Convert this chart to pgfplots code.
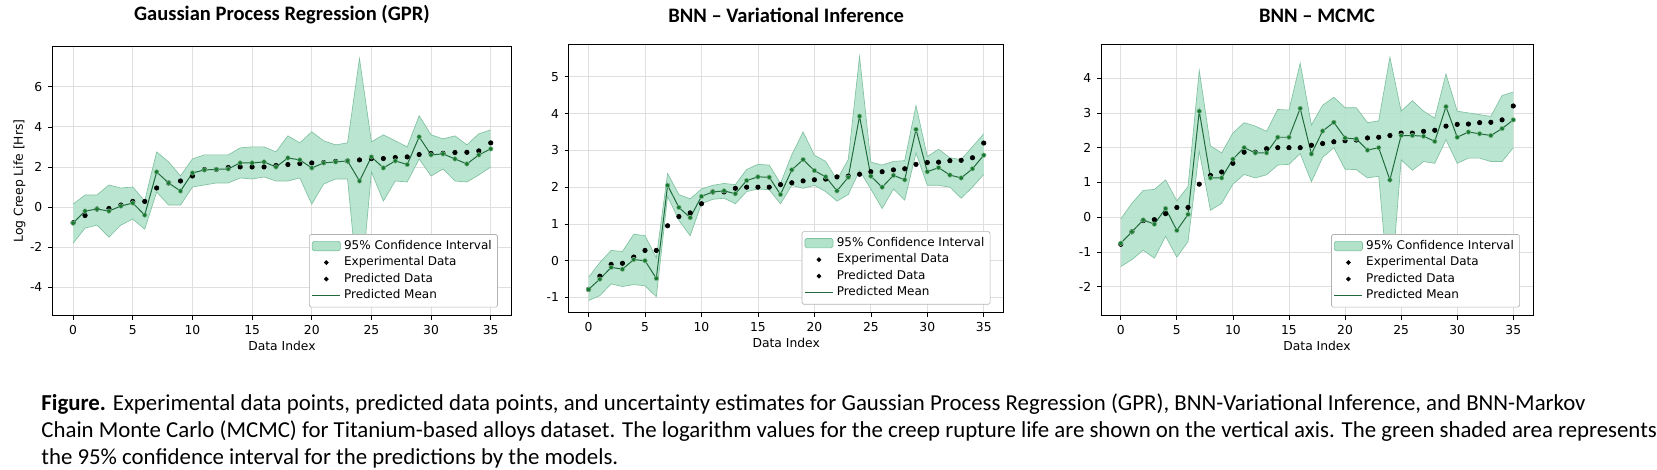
\documentclass[border=0pt]{standalone}
\usepackage{pgfplots}
\pgfplotsset{compat=1.18}
\usepackage{pgfplotstable}
\usepgfplotslibrary{fillbetween}
\usepackage{fontspec}
\setmainfont{DejaVu Sans}
\newfontfamily\capfont{Carlito}
\definecolor{cifill}{HTML}{B3E2CB}
\definecolor{ciedge}{HTML}{7FC2A0}
\definecolor{meanc}{HTML}{1F6B3C}
\definecolor{ptc}{HTML}{177A30}
\pgfplotstableread{
x e m lo hi
0 -0.78 -0.80 -1.80 0.15
1 -0.42 -0.20 -1.05 0.60
2 -0.10 -0.10 -0.90 0.60
3 -0.07 -0.20 -1.50 1.10
4 0.10 0.05 -0.90 0.95
5 0.28 0.20 -0.60 1.00
6 0.28 -0.40 -1.10 0.30
7 0.95 1.75 0.75 2.75
8 1.20 1.20 0.10 2.25
9 1.30 0.80 0.10 1.55
10 1.55 1.70 1.00 2.40
11 1.87 1.85 1.10 2.60
12 1.87 1.88 1.20 2.60
13 1.97 1.90 1.20 2.60
14 2.00 2.20 1.45 2.95
15 2.00 2.20 1.40 3.00
16 2.00 2.25 1.50 3.00
17 2.07 2.00 1.30 2.75
18 2.12 2.45 1.30 3.55
19 2.17 2.35 1.45 3.20
20 2.20 1.95 0.15 3.75
21 2.22 2.20 1.15 3.30
22 2.28 2.25 1.40 3.10
23 2.30 2.30 1.40 3.20
24 2.35 1.30 -4.80 7.40
25 2.42 2.50 1.75 3.25
26 2.42 1.95 0.30 3.60
27 2.47 2.30 1.30 3.30
28 2.50 2.12 1.25 3.00
29 2.62 3.50 2.40 4.55
30 2.67 2.60 1.55 3.60
31 2.68 2.65 1.90 3.40
32 2.72 2.40 1.30 3.55
33 2.73 2.15 1.25 3.10
34 2.80 2.60 1.60 3.65
35 3.20 2.90 2.00 3.85
}\gpr
\pgfplotstableread{
x e m lo hi
0 -0.78 -0.78 -1.08 -0.45
1 -0.42 -0.50 -0.95 -0.05
2 -0.10 -0.18 -0.63 0.28
3 -0.07 -0.23 -0.70 0.25
4 0.10 0.03 -0.65 0.72
5 0.28 0.00 -0.68 0.68
6 0.28 -0.48 -0.98 0.08
7 0.95 2.05 1.75 2.37
8 1.20 1.45 1.10 1.80
9 1.30 1.17 0.68 1.68
10 1.55 1.75 1.55 1.95
11 1.87 1.87 1.67 2.05
12 1.87 1.90 1.70 2.10
13 1.97 1.82 1.55 2.07
14 2.00 2.18 1.88 2.48
15 2.00 2.28 1.95 2.62
16 2.00 2.27 1.93 2.60
17 2.07 1.80 1.55 2.10
18 2.12 2.47 2.05 2.88
19 2.17 2.75 1.97 3.50
20 2.20 2.45 2.05 2.87
21 2.22 2.28 1.88 2.70
22 2.28 1.90 1.62 2.20
23 2.30 2.27 1.80 2.75
24 2.35 3.93 2.45 5.55
25 2.42 2.30 1.95 2.68
26 2.42 2.00 1.42 2.60
27 2.47 2.32 1.95 2.70
28 2.50 2.20 1.65 2.72
29 2.62 3.57 2.93 4.22
30 2.67 2.42 2.05 2.83
31 2.68 2.53 2.05 3.03
32 2.72 2.33 2.00 2.80
33 2.73 2.25 1.70 2.75
34 2.80 2.50 2.00 3.10
35 3.20 2.87 2.35 3.45
}\vi
\pgfplotstableread{
x e m lo hi
0 -0.78 -0.75 -1.42 -0.05
1 -0.42 -0.42 -1.22 0.40
2 -0.10 -0.08 -0.95 0.77
3 -0.07 -0.20 -1.18 0.80
4 0.10 0.25 -0.55 1.07
5 0.28 -0.38 -1.15 0.47
6 0.28 0.08 -0.70 0.88
7 0.95 3.05 1.90 4.22
8 1.20 1.13 0.20 2.05
9 1.30 1.13 0.40 1.85
10 1.55 1.67 0.95 2.42
11 1.87 2.00 1.23 2.72
12 1.87 1.85 1.13 2.62
13 1.97 1.85 1.22 2.47
14 2.00 2.30 1.50 3.10
15 2.00 2.30 1.52 3.08
16 2.00 3.13 1.83 4.43
17 2.07 1.82 1.02 2.65
18 2.12 2.48 1.72 3.22
19 2.17 2.73 2.00 3.45
20 2.20 2.28 1.38 3.15
21 2.22 2.25 1.37 3.15
22 2.28 1.93 1.13 2.72
23 2.30 2.00 1.18 2.77
24 2.35 1.07 -2.45 4.60
25 2.42 2.35 1.65 3.05
26 2.42 2.35 1.35 3.35
27 2.47 2.33 1.60 3.05
28 2.50 2.18 1.55 2.85
29 2.62 3.18 2.23 4.12
30 2.67 2.30 1.55 3.05
31 2.68 2.45 1.70 3.00
32 2.72 2.40 1.70 2.95
33 2.73 2.35 1.60 2.90
34 2.80 2.55 1.60 3.50
35 3.20 2.80 2.00 3.60
}\mcmc
\pgfplotsset{
  panel/.style={scale only axis, anchor=south west,
    xmin=-1.75, xmax=36.75, xtick={0,5,...,35},
    xtick pos=bottom, ytick pos=left,
    grid=major, major grid style={gray!25, line width=0.5pt},
    tick label style={font=\fontsize{7.5}{9}\selectfont},
    label style={font=\fontsize{7.5}{9}\selectfont},
    xlabel={Data Index}, xlabel style={yshift=3pt},
    title style={font=\capfont\bfseries\fontsize{12.5}{14}\selectfont, yshift=4pt},
    tick align=outside, tick style={black, thin}, major tick length=2.5pt,
    legend pos=south east,
    legend style={font=\fontsize{7.3}{8.8}\selectfont, draw=gray!60, rounded corners=1pt, inner sep=1.5pt, row sep=-1pt},
    legend cell align=left,
    axis line style={black, thin},
    /pgf/number format/assume math mode=true,
  }
}
\newcommand\drawpanel[1]{%
  \addlegendimage{area legend, fill=cifill, draw=ciedge}
  \addlegendentry{95\% Confidence Interval}
  \addlegendimage{only marks, mark=*, mark size=1.2pt, black}
  \addlegendentry{Experimental Data}
  \addlegendimage{only marks, mark=*, mark size=1.2pt, black}
  \addlegendentry{Predicted Data}
  \addlegendimage{meanc, line width=0.6pt}
  \addlegendentry{Predicted Mean}
  \addplot[name path=hi, draw=ciedge, line width=0.4pt, forget plot] table[x=x,y=hi]{#1};
  \addplot[name path=lo, draw=ciedge, line width=0.4pt, forget plot] table[x=x,y=lo]{#1};
  \addplot[fill=cifill, fill opacity=0.9, forget plot] fill between[of=hi and lo];
  \addplot[only marks, mark=*, mark size=1.35pt, black, forget plot] table[x=x,y=e]{#1};
  \addplot[meanc, line width=0.6pt, mark=*, mark size=1.4pt, mark options={fill=ptc, draw=ptc!50!white, line width=0.3pt}, forget plot] table[x=x,y=m]{#1};
}
\begin{document}
\begin{tikzpicture}
\path (0,0) rectangle (994.2pt,284.4pt);
\begin{axis}[panel, at={(31.8pt,93.6pt)}, width=279.6pt, height=163.8pt,
  ymin=-5.41, ymax=8.01, ytick={-4,-2,0,2,4,6},
  ylabel={Log Creep Life [Hrs]}, ylabel style={yshift=-4pt},
  title={Gaussian Process Regression (GPR)}]
\drawpanel{\gpr}
\end{axis}
\begin{axis}[panel, at={(346.2pt,95.4pt)}, width=264.6pt, height=163.2pt,
  ymin=-1.41, ymax=5.88, ytick={-1,0,...,5},
  title={BNN – Variational Inference}]
\drawpanel{\vi}
\end{axis}
\begin{axis}[panel, at={(670.2pt,93.6pt)}, width=262.8pt, height=165pt,
  ymin=-2.83, ymax=4.97, ytick={-2,-1,...,4},
  title={BNN – MCMC}]
\drawpanel{\mcmc}
\end{axis}
\node[anchor=north west, inner sep=0pt, align=left, font=\capfont\fontsize{13.9}{16.4}\selectfont] at (25pt,46pt)
 {\textbf{Figure.} Experimental data points, predicted data points, and uncertainty estimates for Gaussian Process Regression (GPR), BNN-Variational Inference, and BNN-Markov\\
 Chain Monte Carlo (MCMC) for Titanium-based alloys dataset. The logarithm values for the creep rupture life are shown on the vertical axis. The green shaded area represents\\
 the 95\% confidence interval for the predictions by the models.};
\end{tikzpicture}
\end{document}
